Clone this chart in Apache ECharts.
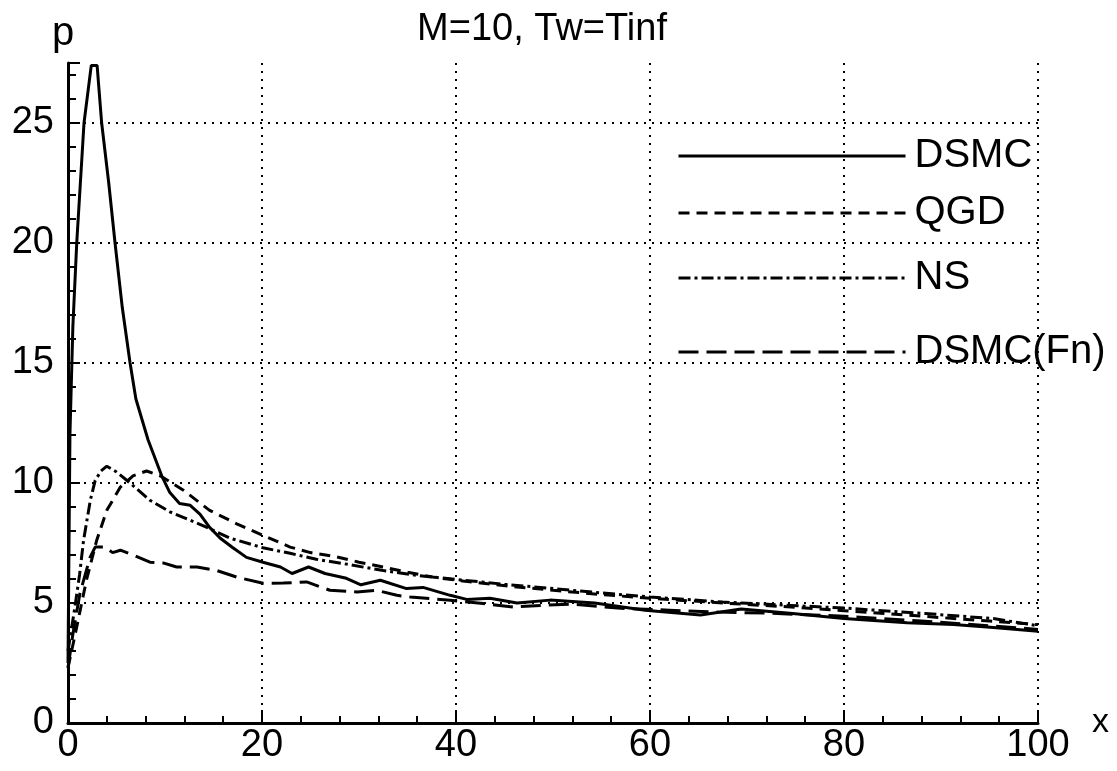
<!DOCTYPE html>
<html>
<head>
<meta charset="utf-8">
<script src="https://cdn.jsdelivr.net/npm/echarts@6/dist/echarts.min.js"></script>
<style>
  html, body { margin: 0; padding: 0; background: #fff; }
  #chart { width: 1117px; height: 771px; }
</style>
</head>
<body>
<div id="chart"></div>
<script>
// values (x, p)
const dsmcX = [0, 0.2, 0.5, 0.9, 1.65, 2.4, 3.0, 3.47, 4.2, 4.85, 5.6, 6.4, 7.0, 8.25, 9.66, 10.5, 11.5, 12.6, 13.6, 14.6, 15.7, 17, 18.4, 20.1, 21.9, 23.1, 24.8, 26.5, 28.7, 30.2, 32.2, 34.9, 36.6, 39.4, 41.1, 43.5, 46.3, 49.7, 54.3, 59.5, 65.2, 69.4, 74.7, 80, 86.5, 91.3, 95.4, 100];
const dsmcP = [2.5, 12, 16.5, 20, 25, 27.4, 27.4, 25, 22.5, 20, 17.3, 15, 13.5, 11.8, 10.3, 9.6, 9.15, 9.07, 8.7, 8.15, 7.7, 7.3, 6.9, 6.7, 6.5, 6.23, 6.5, 6.23, 6.03, 5.76, 5.95, 5.6, 5.65, 5.32, 5.15, 5.2, 5.0, 5.12, 5.0, 4.7, 4.5, 4.75, 4.56, 4.35, 4.18, 4.1, 3.98, 3.82];

const qgdX = [0, 0.9, 1.9, 2.95, 4.0, 5.4, 6.7, 8.1, 9.5, 11.9, 14.6, 17.4, 20.1, 22.9, 25, 27.7, 30, 32.5, 35, 37.6, 41.4, 46.3, 50, 55, 60, 67.5, 75, 80, 88, 95, 100];
const qgdP = [2.3, 4.0, 5.95, 7.6, 8.86, 9.83, 10.3, 10.5, 10.3, 9.7, 8.86, 8.3, 7.82, 7.33, 7.1, 6.92, 6.7, 6.5, 6.28, 6.08, 5.88, 5.67, 5.53, 5.35, 5.2, 5.0, 4.82, 4.68, 4.45, 4.25, 4.1];

const nsX = [0, 0.7, 1.2, 1.6, 2.3, 2.8, 3.4, 4.0, 5.0, 6.4, 8.45, 10.5, 12.6, 14.6, 16.7, 20.1, 22.9, 25.6, 29, 32.5, 36, 40, 45, 50, 55, 60, 67.5, 74.5, 80, 88.4, 95.4, 100];
const nsP = [3.0, 4.8, 6.2, 7.6, 9.28, 10.1, 10.5, 10.7, 10.46, 10.0, 9.28, 8.8, 8.45, 8.1, 7.7, 7.3, 7.07, 6.82, 6.6, 6.35, 6.15, 5.98, 5.78, 5.6, 5.42, 5.25, 5.04, 4.9, 4.79, 4.56, 4.35, 4.05];

const fnX = [0, 0.5, 1.23, 2.27, 2.8, 3.8, 4.6, 5.4, 6.7, 8.45, 9.8, 11.2, 13.3, 15.3, 17.4, 20.1, 22.2, 24.6, 27, 29.8, 31.8, 33.9, 35.3, 39.4, 42.8, 45.9, 48.7, 52, 57, 62, 67, 72, 80, 88, 95, 100];
const fnP = [2.3, 3.7, 5.4, 6.9, 7.33, 7.33, 7.1, 7.2, 7.0, 6.7, 6.67, 6.5, 6.5, 6.36, 6.08, 5.82, 5.83, 5.88, 5.53, 5.46, 5.53, 5.32, 5.25, 5.11, 4.98, 4.83, 4.9, 4.95, 4.78, 4.7, 4.62, 4.58, 4.45, 4.25, 4.05, 3.9];

const seriesNames = ["DSMC", "QGD", "NS", "DSMC(Fn)"];
const xTicks = [0, 20, 40, 60, 80, 100];
const pTicks = [0, 5, 10, 15, 20, 25];

const FONT = "Liberation Sans, Arial, sans-serif";
const pairs = (xs, ys) => xs.map((x, i) => [x, ys[i]]);

const dashes = ["solid", [11, 7], [12, 4, 3, 4], [20, 8]];
const curves = [pairs(dsmcX, dsmcP), pairs(qgdX, qgdP), pairs(nsX, nsP), pairs(fnX, fnP)];
const legendRows = [151, 208, 273, 347];

let myChart = echarts.init(document.getElementById("chart"));

const option = {
  backgroundColor: "#fff",
  animation: false,
  title: {
    text: "M=10, Tw=Tinf",
    left: 537,
    top: 6,
    textAlign: "center",
    textStyle: { fontFamily: FONT, fontSize: 38, fontWeight: "normal", color: "#000" }
  },
  grid: { left: 68, right: 79, top: 63, bottom: 48, containLabel: false, outerBoundsMode: "none" },
  legend: seriesNames.map((name, i) => ({
    data: [name],
    left: 672,
    top: legendRows[i] - 20,
    itemWidth: 227,
    itemHeight: 14,
    selectedMode: false,
    itemStyle: { opacity: 0, borderWidth: 0, color: "transparent" },
    lineStyle: { width: 3, color: "#000", type: dashes[i] },
    textStyle: { fontFamily: FONT, fontSize: 40, lineHeight: 40, color: "#000", padding: [0, 0, 0, 4] }
  })),
  xAxis: {
    type: "value",
    min: 0,
    max: 100,
    interval: 20,
    axisLine: { show: true, lineStyle: { color: "#000", width: 3 } },
    axisTick: { show: true, inside: true, length: 13, lineStyle: { color: "#000", width: 2 } },
    minorTick: { show: true, splitNumber: 5, length: 7, lineStyle: { color: "#000", width: 2 } },
    axisLabel: {
      fontFamily: FONT, fontSize: 38, color: "#000", margin: 4,
      formatter: v => (xTicks.includes(v) ? String(v) : "")
    },
    splitLine: { show: true, showMinLine: false, showMaxLine: true, lineStyle: { color: "#000", width: 2, type: [2, 6] } }
  },
  yAxis: [
    {
      // minor ticks every unit
      type: "value",
      min: 0,
      max: 27.5,
      interval: 1,
      axisLine: { show: true, onZero: false, lineStyle: { color: "#000", width: 3 } },
      axisTick: { show: true, inside: true, length: 8, lineStyle: { color: "#000", width: 2 } },
      axisLabel: { show: false },
      splitLine: { show: false }
    },
    {
      type: "value",
      min: 0,
      max: 27.5,
      interval: 5,
      position: "left",
      axisLine: { show: false },
      axisTick: { show: true, inside: true, length: 12, lineStyle: { color: "#000", width: 2 } },
      axisLabel: {
        fontFamily: FONT, fontSize: 38, color: "#000", margin: 14,
        formatter: v => (pTicks.includes(v) ? String(v) : "")
      },
      splitLine: { show: true, showMinLine: false, showMaxLine: false, lineStyle: { color: "#000", width: 2, type: [2, 6] } }
    }
  ],
  graphic: [
    { type: "text", left: 52, top: 14, style: { text: "p", fontFamily: FONT, fontSize: 40, fill: "#000" } },
    { type: "text", left: 1092, top: 706, style: { text: "x", fontFamily: FONT, fontSize: 34, fill: "#000" } }
  ],
  series: seriesNames.map((name, i) => ({
    name: name,
    type: "line",
    yAxisIndex: 0,
    symbol: "none",
    smooth: false,
    data: curves[i],
    lineStyle: { color: "#000", width: 3, type: dashes[i] },
    itemStyle: { color: "#000" }
  }))
};

myChart.setOption(option);
</script>
</body>
</html>
